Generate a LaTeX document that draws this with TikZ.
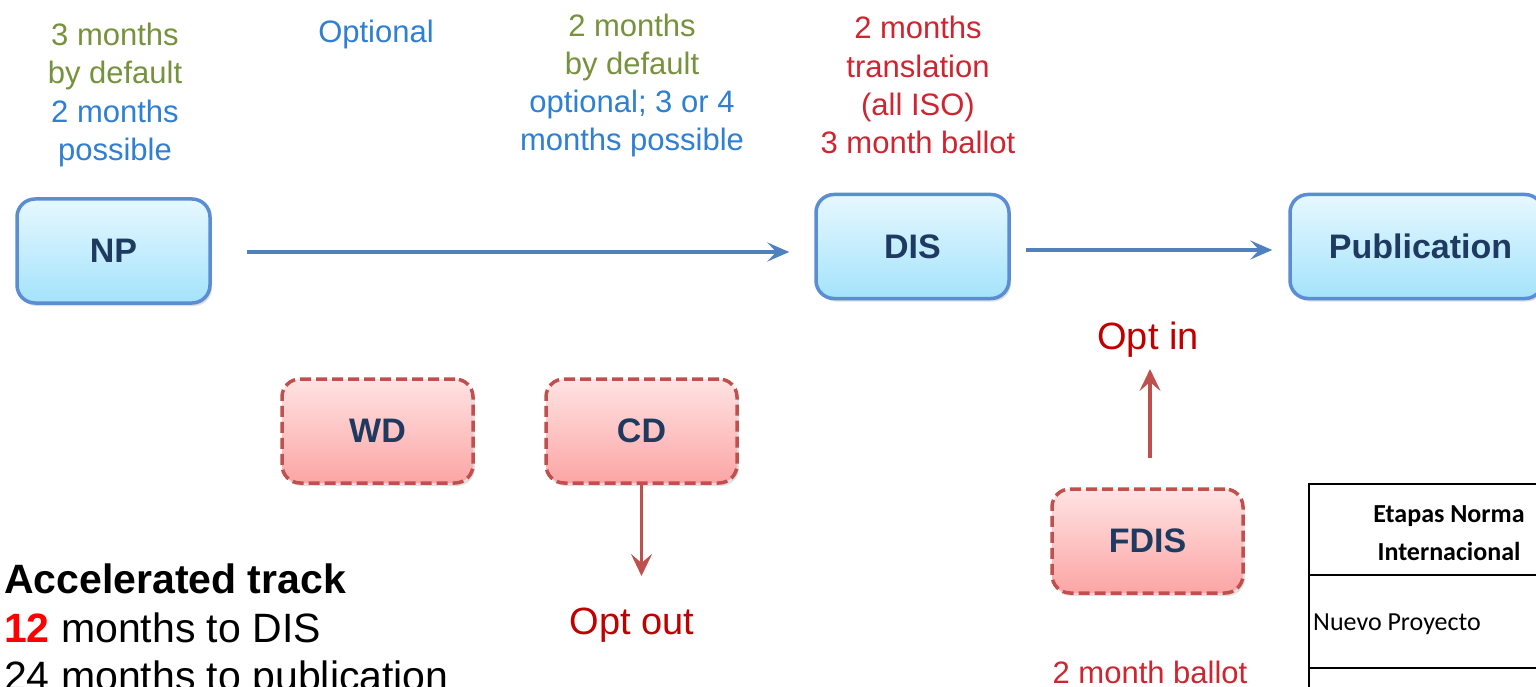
\documentclass[tikz,border=0pt]{standalone}
\usepackage{fontspec}
\setmainfont{Liberation Sans}
\newfontfamily\calibri{Carlito}
\usetikzlibrary{arrows.meta,shadows}
\definecolor{olivetxt}{HTML}{76923C}
\definecolor{bluetxt}{HTML}{2F7FD2}
\definecolor{redtxt}{HTML}{CF2530}
\definecolor{optred}{HTML}{C00000}
\definecolor{boxblue}{HTML}{5A8DD3}
\definecolor{bluetop}{HTML}{E6F8FF}
\definecolor{bluebot}{HTML}{A4E3FB}
\definecolor{boxred}{HTML}{C0504D}
\definecolor{redtop}{HTML}{FFE3E3}
\definecolor{redbot}{HTML}{FCA5A5}
\definecolor{navy}{HTML}{1F3A60}
\definecolor{arrowblue}{HTML}{4F81BD}
\definecolor{arrowred}{HTML}{C0504D}
\tikzset{
  bluebox/.style={rounded corners=18pt, draw=boxblue, line width=3.5pt,
    top color=bluetop, bottom color=bluebot, minimum width=193pt, minimum height=104pt,
    font=\fontsize{34}{40}\selectfont\bfseries, text=navy, inner sep=0pt,
    drop shadow={opacity=0.25, shadow xshift=2pt, shadow yshift=-3pt}},
  redbox/.style={rounded corners=18pt, draw=boxred, line width=3.5pt,
    dash pattern=on 11pt off 5pt,
    top color=redtop, bottom color=redbot, minimum width=191pt, minimum height=104pt,
    font=\fontsize{34}{40}\selectfont\bfseries, text=navy, inner sep=0pt,
    drop shadow={opacity=0.25, shadow xshift=2pt, shadow yshift=-3pt}},
  toptxt/.style={anchor=base, inner sep=0pt, font=\fontsize{31}{38}\selectfont},
  acctxt/.style={anchor=base west, inner sep=0pt, font=\fontsize{41}{48}\selectfont},
  opttxt/.style={anchor=base, inner sep=0pt, text=optred, font=\fontsize{38}{44}\selectfont},
  bluearrow/.style={draw=arrowblue, line width=3.5pt, -{Stealth[length=22pt,width=19pt,inset=9pt]}},
  redarrow/.style={draw=arrowred, line width=3.5pt, -{Stealth[length=22pt,width=21pt,inset=9pt]}},
  tabline/.style={draw=black, line width=2.5pt},
  tabtxt/.style={inner sep=0pt, font=\calibri\fontsize{26}{32}\selectfont}
}
\begin{document}
\begin{tikzpicture}[x=1pt,y=-1pt]
\useasboundingbox[fill=white] (0,0) rectangle (1536,687);

% top labels
\node[toptxt, text=olivetxt] (a1) at (115,46) {3 months};
\node[toptxt, text=olivetxt] (a2) at (115,84) {by default};
\node[toptxt, text=bluetxt] (a3) at (115,123) {2 months};
\node[toptxt, text=bluetxt] (a4) at (115,161) {possible};
\node[toptxt, text=bluetxt] (opt) at (376,43) {Optional};
\node[toptxt, text=olivetxt] (b1) at (632,37) {2 months};
\node[toptxt, text=olivetxt] (b2) at (632,75) {by default};
\node[toptxt, text=bluetxt] (b3) at (632,113) {optional; 3 or 4};
\node[toptxt, text=bluetxt] (b4) at (632,151) {months possible};
\node[toptxt, text=redtxt] (c1) at (918,39) {2 months};
\node[toptxt, text=redtxt] (c2) at (918,78) {translation};
\node[toptxt, text=redtxt] (c3) at (918,116) {(all ISO)};
\node[toptxt, text=redtxt] (c4) at (918,154) {3 month ballot};

% main boxes
\node[bluebox] (NP) at (113.5,251) {NP};
\node[bluebox] (DIS) at (912.5,246.5) {DIS};
\node[bluebox, minimum width=253pt] (PUB) at (1416.5,246.5) {\hspace{8pt}Publication};

\draw[bluearrow, shorten <=35pt, shorten >=25pt] (NP.east |- 0,252) -- (DIS.west |- 0,252);
\draw[bluearrow, shorten <=15pt, shorten >=16pt] (DIS.east |- 0,250) -- (PUB.west |- 0,250);

% optional boxes
\node[redbox] (WD) at (377.5,431) {WD};
\node[redbox] (CD) at (641.5,431) {CD};
\node[redbox] (FDIS) at (1147.5,541) {FDIS};

\node[opttxt] (optout) at (632,634) {Opt out};
\node[opttxt] (optin) at (1148,349) {Opt in};
\coordinate (cdend) at (641.5,576);
\draw[redarrow] (CD.south) -- (cdend);
\coordinate (fdstart) at (1150,458);
\coordinate (fdend) at (1150,369);
\draw[redarrow] (fdstart) -- (fdend);

\node[toptxt, text=redtxt] (ballot) at (1150,683) {2 month ballot};

% accelerated track
\node[acctxt, font=\fontsize{41}{48}\selectfont\bfseries] (acc1) at (4,593) {Accelerated track};
\node[acctxt] (acc2) at (4,642) {\textcolor{red}{\bfseries 12} months to DIS};
\node[acctxt] (acc3) at (4,690) {24 months to publication};

% table
\coordinate (t1) at (1309,484);
\coordinate (t2) at (1545,484);
\coordinate (t3) at (1309,700);
\coordinate (t4) at (1309,575);
\coordinate (t5) at (1545,575);
\coordinate (t6) at (1309,668);
\coordinate (t7) at (1545,668);
\draw[tabline] (t2) -- (t1) -- (t3);
\draw[tabline] (t4) -- (t5);
\draw[tabline] (t6) -- (t7);
\node[tabtxt, anchor=base, font=\calibri\bfseries\fontsize{26}{32}\selectfont] (h1) at (1449,522) {Etapas Norma};
\node[tabtxt, anchor=base, font=\calibri\bfseries\fontsize{26}{32}\selectfont] (h2) at (1449,560) {Internacional};
\node[tabtxt, anchor=base west] (np) at (1313,630) {Nuevo Proyecto};
\end{tikzpicture}
\end{document}
